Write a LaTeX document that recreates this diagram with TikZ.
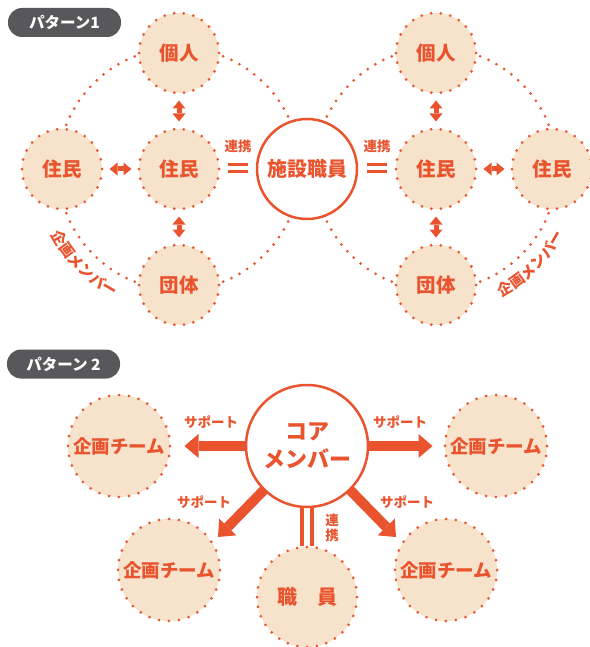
\documentclass[tikz,border=0pt]{standalone}
\usepackage{fontspec}
\setmainfont{Noto Sans CJK JP}
\usetikzlibrary{arrows.meta,decorations.text}
\definecolor{orng}{HTML}{E9542F}
\definecolor{peach}{HTML}{F7E3CB}
\definecolor{pillgray}{HTML}{58585A}
\pgfdeclarelayer{bg}
\pgfsetlayers{bg,main}
\tikzset{
  member/.style={circle, inner sep=0pt, minimum size=80pt, fill=peach, draw=orng, line width=3pt, line cap=round, dash pattern=on 0pt off 9.67pt, text=orng, font=\bfseries\fontsize{19.5}{19.5}\selectfont},
  team/.style={member, minimum size=102pt, dash pattern=on 0pt off 10.01pt, font=\bfseries\fontsize{18.5}{18.5}\selectfont},
  staffc/.style={member, minimum size=100pt, dash pattern=on 0pt off 9.82pt, font=\bfseries\fontsize{20}{20}\selectfont},
  solidc/.style={circle, inner sep=0pt, fill=white, draw=orng, line width=2.5pt, text=orng, align=center},
  pill/.style={rectangle, rounded corners=14pt, fill=pillgray, text=white, minimum width=113pt, minimum height=29pt, inner sep=0pt, font=\bfseries\fontsize{15.5}{15.5}\selectfont},
  lbl/.style={text=orng, inner sep=0pt, font=\bfseries\fontsize{13.5}{15}\selectfont, align=center},
  bigdots/.style={draw=orng, line width=3pt, line cap=round, dash pattern=on 0pt off 9.05pt},
  dbl/.style={color=orng, line width=5pt, {Triangle[width=13pt,length=8pt,line width=0pt]}-{Triangle[width=13pt,length=8pt,line width=0pt]}, shorten <=6pt, shorten >=6pt},
  bigarrow/.style={color=orng, line width=10pt, -{Triangle[width=24pt,length=14pt,line width=0pt]}},
  eqbar/.style={color=orng, line width=3pt},
  arclabel/.style={decorate, decoration={text along path, text={|\bfseries\fontsize{15}{15}\selectfont|企画メンバー}, text align=center, text color=orng}},
}
\begin{document}
\begin{tikzpicture}[x=1pt,y=-1pt]
\useasboundingbox (0,0) rectangle (589,647);
% ---------- pattern 1 ----------
\node[pill] (pat1) at (64.5,22.5) {パターン1};
\node[member] (lres) at (62,169) {住民};
\node[member] (lind) at (179,53) {個人};
\node[member] (lmid) at (179,169) {住民};
\node[member] (lgrp) at (179,285) {団体};
\node[solidc, minimum size=100pt, font=\bfseries\fontsize{20}{20}\selectfont] (staff) at (307,169) {施設職員};
\node[member] (rind) at (436,53) {個人};
\node[member] (rmid) at (436,169) {住民};
\node[member] (rres) at (552,169) {住民};
\node[member] (rgrp) at (436,285) {団体};
\begin{pgfonlayer}{bg}
  \draw[bigdots] (lmid.center) circle[radius=121];
  \draw[bigdots] (rmid.center) circle[radius=121];
\end{pgfonlayer}
\draw[dbl] (lind) -- (lmid);
\draw[dbl] (lmid) -- (lgrp);
\draw[dbl] (lres) -- (lmid);
\draw[dbl] (rind) -- (rmid);
\draw[dbl] (rmid) -- (rgrp);
\draw[dbl] (rmid) -- (rres);
\node[lbl] (lk1) at (238,146) {連携};
\node[lbl] (rk1) at (377,146) {連携};
\draw[eqbar] (228,164.5) -- (248,164.5);
\draw[eqbar] (228,172) -- (248,172);
\draw[eqbar] (367,164.5) -- (387,164.5);
\draw[eqbar] (367,172) -- (387,172);
\path[arclabel] (lmid.center) ++(165:144) arc[start angle=165, end angle=105, radius=144];
\path[arclabel] (rmid.center) ++(75:144) arc[start angle=75, end angle=15, radius=144];
% ---------- pattern 2 ----------
\node[pill] (pat2) at (63.5,364) {パターン 2};
\node[solidc, minimum size=122pt, font=\bfseries\fontsize{22}{28}\selectfont] (core) at (307,446) {コア\\メンバー};
\node[team] (t1) at (119,446) {企画チーム};
\node[team] (t2) at (496,446) {企画チーム};
\node[team] (t3) at (169,570) {企画チーム};
\node[team] (t4) at (446,570) {企画チーム};
\node[staffc] (st2) at (307,597) {職　員};
\coordinate (a3) at (218,537);
\coordinate (a4) at (396,537);
\begin{pgfonlayer}{bg}
  \draw[bigarrow, shorten >=13pt] (core.center) -- (t1);
  \draw[bigarrow, shorten >=11pt] (core.center) -- (t2);
  \draw[bigarrow] (core.center) -- (a3);
  \draw[bigarrow] (core.center) -- (a4);
\end{pgfonlayer}
\draw[color=orng, line width=4pt] ([xshift=-5pt]core.south) -- ([xshift=-5pt]st2.north);
\draw[color=orng, line width=4pt] ([xshift=5pt]core.south) -- ([xshift=5pt]st2.north);
\node[lbl] (s1) at (211,422) {サポート};
\node[lbl] (s2) at (400,422) {サポート};
\node[lbl] (s3) at (204,502) {サポート};
\node[lbl] (s4) at (407,502) {サポート};
\node[lbl] (rk2) at (332,528) {連\\携};
\end{tikzpicture}
\end{document}
